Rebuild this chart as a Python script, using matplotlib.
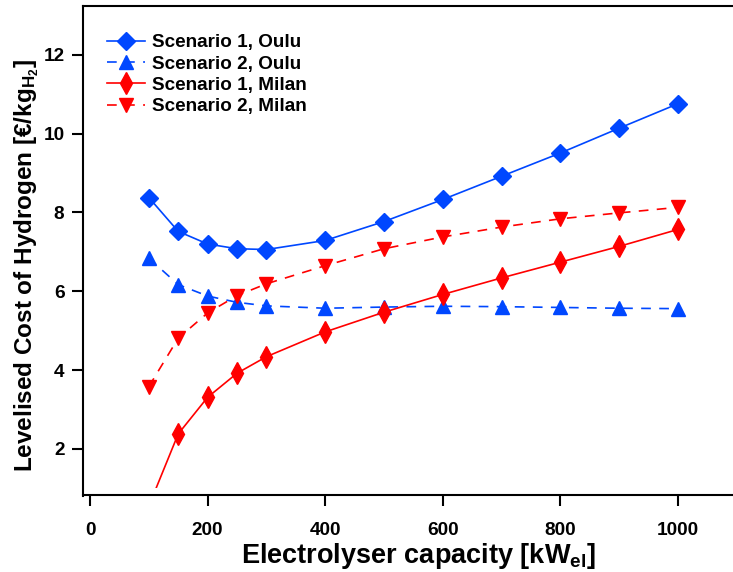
import matplotlib
matplotlib.use("Agg")
import matplotlib.pyplot as plt

plt.rcParams['font.family'] = ['Liberation Sans', 'DejaVu Sans']
plt.rcParams['font.weight'] = 'bold'
plt.rcParams['mathtext.fontset'] = 'custom'
plt.rcParams['mathtext.rm'] = 'Liberation Sans:bold'
plt.rcParams['mathtext.it'] = 'Liberation Sans:bold'
plt.rcParams['mathtext.bf'] = 'Liberation Sans:bold'
plt.rcParams['mathtext.default'] = 'regular'
plt.rcParams['lines.scale_dashes'] = False

# electrolyser sizes [kW_el] and LCOH results [EUR/kg H2]
capacity = [100, 150, 200, 250, 300, 400, 500, 600, 700, 800, 900, 1000]
oulu_s1 = [8.38, 7.52, 7.20, 7.08, 7.06, 7.29, 7.77, 8.33, 8.92, 9.51, 10.14, 10.76]
oulu_s2 = [6.84, 6.17, 5.88, 5.72, 5.63, 5.57, 5.60, 5.62, 5.61, 5.59, 5.57, 5.56]
milan_s1 = [0.55, 2.38, 3.31, 3.92, 4.34, 4.97, 5.47, 5.92, 6.34, 6.74, 7.14, 7.57]
milan_s2 = [3.58, 4.81, 5.45, 5.89, 6.19, 6.65, 7.08, 7.38, 7.63, 7.84, 7.99, 8.13]

x_ticks = [0, 200, 400, 600, 800, 1000]
y_ticks = [2, 4, 6, 8, 10, 12]

blue = '#0047ff'
red = '#ff0000'
dash = (7, 6)

fig = plt.figure(figsize=(7.33, 5.72), dpi=100)
ax = fig.add_axes([0.1228, 0.1463, 0.8772, 0.8432])

ax.plot(capacity, oulu_s1, color=blue, lw=1.2, marker='D', ms=9, label='Scenario 1, Oulu')
ax.plot(capacity, oulu_s2, color=blue, lw=1.2, ls='--', dashes=dash, marker='^', ms=10,
        label='Scenario 2, Oulu')
ax.plot(capacity, milan_s1, color=red, lw=1.2, marker='d', ms=11, label='Scenario 1, Milan')
ax.plot(capacity, milan_s2, color=red, lw=1.2, ls='--', dashes=dash, marker='v', ms=10,
        label='Scenario 2, Milan')

ax.set_xlim(0, 1093.5)
ax.set_ylim(1.0, 13.24)
ax.set_xticks(x_ticks)
ax.set_yticks(y_ticks)

# detached axes, frame closed along the top
ax.spines['left'].set_position(('outward', 5.4))
ax.spines['bottom'].set_position(('outward', 5.0))
ax.spines['right'].set_visible(False)
ax.spines['left'].set_bounds(0.815, 13.24)
ax.spines['bottom'].set_bounds(-12.4, 1093.5)
ax.spines['top'].set_bounds(-12.4, 1093.5)
for s in ['left', 'bottom', 'top']:
    ax.spines[s].set_linewidth(1.5)

ax.tick_params(direction='out', length=8, width=1.5, labelsize=13.7, pad=5)
ax.tick_params(axis='x', pad=11)

ax.set_xlabel('Electrolyser capacity [kW$_{el}$]', fontsize=19.5, fontweight='bold')
ax.set_ylabel('Levelised Cost of Hydrogen [€/kg$_{H_2}$]', fontsize=17.5, fontweight='bold')
ax.xaxis.set_label_coords(0.511, -0.11)
ax.yaxis.set_label_coords(-0.076, 0.463)

ax.legend(loc='upper left', bbox_to_anchor=(0.026, 0.942), frameon=False, fontsize=13.6,
          handlelength=2.0, handletextpad=0.4, labelspacing=0.22, borderpad=0, borderaxespad=0)

fig.savefig('out.png', dpi=100)
